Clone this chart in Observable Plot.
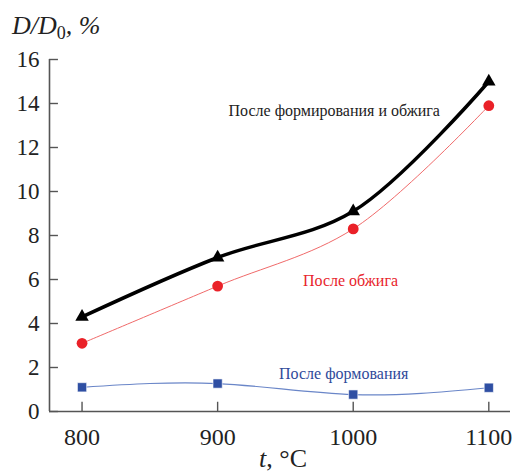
<!DOCTYPE html>
<html><head><meta charset="utf-8">
<script src="https://cdn.jsdelivr.net/npm/d3@7"></script>
<script src="https://cdn.jsdelivr.net/npm/@observablehq/plot@0.6"></script>
<style>body{margin:0;background:#fff;} #chart svg, #chart svg text{font-family:"Liberation Serif","Times New Roman",serif !important;}</style>
</head><body><div id="chart"></div>
<script>
const temps = [800, 900, 1000, 1100];
const afterFormingFiring = [4.3, 7.0, 9.1, 15.0];
const afterFiring = [3.1, 5.7, 8.3, 13.9];
const afterForming = [1.1, 1.27, 0.77, 1.08];
const xTicks = [800, 900, 1000, 1100];
const yTicks = [0, 2, 4, 6, 8, 10, 12, 14, 16];
const labels = ["После формирования и обжига", "После обжига", "После формования"];

const black = temps.map((t, i) => ({t, v: afterFormingFiring[i]}));
const red = temps.map((t, i) => ({t, v: afterFiring[i]}));
const blue = temps.map((t, i) => ({t, v: afterForming[i]}));

const SERIF = '"Liberation Serif", "Times New Roman", serif';
const X0 = 776;

const plot = Plot.plot({
  width: 514, height: 474,
  marginLeft: 49, marginRight: 4, marginTop: 59, marginBottom: 63,
  style: {fontFamily: SERIF, color: "#222", background: "#fff"},
  x: {domain: [X0, 1116], label: null},
  y: {domain: [0, 16], label: null},
  marks: [
    Plot.axisX({ticks: xTicks, tickSize: 0, tickPadding: 16, fontSize: 24, fill: "#222", tickFormat: d => String(d), label: null}),
    Plot.axisY({ticks: yTicks, tickSize: 0, tickPadding: 10, fontSize: 23, fill: "#222", label: null}),
    Plot.ruleX(xTicks, {x: d => d, y1: 0, y2: 0.42, stroke: "#555", strokeWidth: 1.4}),
    Plot.ruleY(yTicks, {y: d => d, x1: X0, x2: X0 + 6.6, stroke: "#555", strokeWidth: 1.4}),
    Plot.ruleY([0], {stroke: "#555", strokeWidth: 1.6}),
    Plot.ruleX([X0], {y1: 0, y2: 16, stroke: "#555", strokeWidth: 1.6}),
    Plot.line(blue, {x: "t", y: "v", curve: "natural", stroke: "#6a86c8", strokeWidth: 1.2}),
    Plot.line(red, {x: "t", y: "v", curve: "catmull-rom", stroke: "#f06a6a", strokeWidth: 1}),
    Plot.line(black, {x: "t", y: "v", curve: "catmull-rom", stroke: "#000", strokeWidth: 3.5}),
    Plot.dot(blue, {x: "t", y: "v", symbol: "square", r: 5.2, fill: "#2f4fa3", stroke: "#fff", strokeWidth: 0.6}),
    Plot.dot(red, {x: "t", y: "v", symbol: "circle", r: 5.4, fill: "#ea2128"}),
    Plot.dot(black, {x: "t", y: "v", symbol: "triangle", r: 5, fill: "#000"}),
    Plot.text([labels[0]], {x: 986, y: 13.68, text: d => d, fill: "#222", fontSize: 16}),
    Plot.text([labels[1]], {x: 998, y: 5.95, text: d => d, fill: "#e8242b", fontSize: 16}),
    Plot.text([labels[2]], {x: 993, y: 1.73, text: d => d, fill: "#2f4a9a", fontSize: 16})
  ]
});

const svg = d3.select(plot);
const yl = svg.append("text").attr("x", 12).attr("y", 34).attr("font-size", 26)
  .attr("text-anchor", "start").attr("font-style", "italic").attr("fill", "#222");
yl.append("tspan").text("D/D");
yl.append("tspan").attr("font-size", 18).attr("dy", 5).attr("font-style", "normal").text("0");
yl.append("tspan").attr("dy", -5).text(", %");
const xl = svg.append("text").attr("x", 283).attr("y", 467).attr("font-size", 26)
  .attr("text-anchor", "middle").attr("fill", "#222");
xl.append("tspan").attr("font-style", "italic").text("t");
xl.append("tspan").text(", °C");

document.getElementById("chart").appendChild(plot);
</script>
</body></html>
